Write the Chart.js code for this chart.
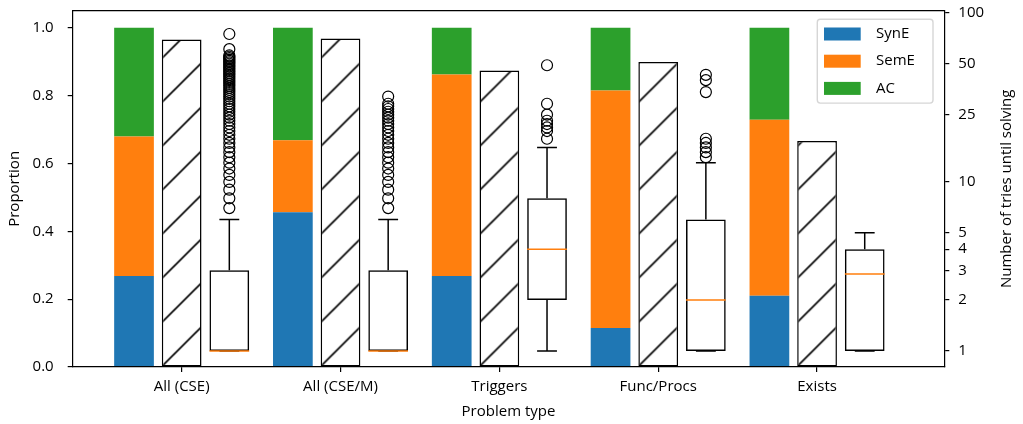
<!DOCTYPE html>
<html>
<head>
<meta charset="utf-8">
<script src="https://cdn.jsdelivr.net/npm/chart.js@4.4.1/dist/chart.umd.min.js"></script>
<style>
  html, body { margin: 0; padding: 0; background: #fff; }
  canvas { display: block; }
</style>
</head>
<body>
<canvas id="chart" width="1023" height="424"></canvas>
<script>
// Problem types on the x axis
const categories = ['All (CSE)', 'All (CSE/M)', 'Triggers', 'Func/Procs', 'Exists'];

// Share of submissions by outcome (stacked, left axis)
const synE = [0.268, 0.456, 0.268, 0.115, 0.210];
const semE = [0.411, 0.212, 0.594, 0.700, 0.519];
const ac   = [0.321, 0.332, 0.138, 0.185, 0.271];

// Share of problems eventually solved (hatched bar, left axis)
const solved = [0.965, 0.968, 0.874, 0.899, 0.666];

// Tries until solving (box plots, right log axis)
const whiskerLow  = [1, 1, 1, 1, 1];
const boxQ1       = [1, 1, 2, 1, 1];
const boxMedian   = [1, 1, 4, 2, 2.85];
const boxQ3       = [3, 3, 8, 6, 4];
const whiskerHigh = [6, 6, 16, 13, 5];
const outliersCSE = [7, 8, 9, 10, 11, 12, 13, 14, 15, 16, 17, 18, 19, 20, 21, 22, 23, 24, 25, 26,
                     27, 28, 29, 30, 31, 32, 33, 34, 35, 36, 37, 38, 39, 40, 41, 42, 43, 44, 45, 46,
                     47, 48, 49, 50, 51, 52, 53, 54, 55, 56, 61, 75];
const outliersCSEM = [7, 8, 9, 10, 11, 12, 13, 14, 15, 16, 17, 18, 19, 20, 21, 22, 23, 24, 25, 26,
                      27, 28, 29, 32];
const outliersTriggers = [18, 20, 21, 22, 23, 25, 29, 49];
const outliersFunc = [14, 15, 16, 17, 18, 34, 40, 43];
const outliersExists = [];
const outliers = [outliersCSE, outliersCSEM, outliersTriggers, outliersFunc, outliersExists];

// Tick labels
const proportionTicks = [0, 0.2, 0.4, 0.6, 0.8, 1.0];
const triesTicks = [1, 2, 3, 4, 5, 10, 25, 50, 100];

const FONT = "'Open Sans', sans-serif";
const COLORS = { synE: '#1f77b4', semE: '#ff7f0e', ac: '#2ca02c', median: '#ff7f0e' };

// Group layout in category units: three slots of 0.3, bars 0.25 wide
const SLOT = 0.3;
const BAR_W = 0.25;
const CAP_HALF = BAR_W / 4;
const HATCH_STEP = 44;

Chart.defaults.font.family = FONT;
Chart.defaults.font.size = 15;
Chart.defaults.color = '#000';

const xy = (arr) => arr.map((v, i) => ({ x: i, y: v }));

// Whisker and cap segments, separated by gaps
const whiskerPts = [];
const medianPts = [];
const outlierPts = [];
categories.forEach((_, i) => {
  const cx = i + SLOT;
  whiskerPts.push({ x: cx, y: whiskerLow[i] }, { x: cx, y: boxQ1[i] }, { x: cx, y: null });
  whiskerPts.push({ x: cx, y: boxQ3[i] }, { x: cx, y: whiskerHigh[i] }, { x: cx, y: null });
  whiskerPts.push({ x: cx - CAP_HALF, y: whiskerLow[i] }, { x: cx + CAP_HALF, y: whiskerLow[i] }, { x: cx, y: null });
  whiskerPts.push({ x: cx - CAP_HALF, y: whiskerHigh[i] }, { x: cx + CAP_HALF, y: whiskerHigh[i] }, { x: cx, y: null });
  medianPts.push({ x: cx - BAR_W / 2, y: boxMedian[i] }, { x: cx + BAR_W / 2, y: boxMedian[i] }, { x: cx, y: null });
  outliers[i].forEach(v => outlierPts.push({ x: cx, y: v }));
});

function hatchPattern(ctx, left, base) {
  const T = HATCH_STEP;
  const tile = document.createElement('canvas');
  tile.width = T; tile.height = T;
  const g = tile.getContext('2d');
  g.fillStyle = '#fff';
  g.fillRect(0, 0, T, T);
  g.strokeStyle = '#000';
  g.lineWidth = 1.6;
  for (const k of [-1, 0, 1]) {
    g.beginPath();
    g.moveTo(k * T, T);
    g.lineTo(k * T + T, 0);
    g.stroke();
  }
  const p = ctx.createPattern(tile, 'repeat');
  p.setTransform(new DOMMatrix().translate(left, base));
  return p;
}

// Anchor the hatch of each bar at its bottom-left corner
const hatchFill = {
  id: 'hatchFill',
  beforeDatasetDraw(chart, args) {
    const ds = chart.data.datasets[args.index];
    if (!ds.hatched) return;
    args.meta.data.forEach(el => {
      const pat = hatchPattern(chart.ctx, el.x - el.width / 2, el.base);
      el.options = Object.assign({}, el.options, { backgroundColor: pat });
    });
  }
};

// Right-hand axis title, reading bottom to top
const rightTitle = {
  id: 'rightTitle',
  afterDraw(chart, args, o) {
    const s = chart.scales.y2;
    const ctx = chart.ctx;
    ctx.save();
    ctx.font = `${o.size}px ${FONT}`;
    ctx.fillStyle = '#000';
    ctx.textAlign = 'center';
    ctx.textBaseline = 'middle';
    ctx.translate(s.right - o.offset, (s.top + s.bottom) / 2);
    ctx.rotate(-Math.PI / 2);
    ctx.fillText(o.text, 0, 0);
    ctx.restore();
  }
};

// Framed legend in the upper right of the plot
const framedLegend = {
  id: 'framedLegend',
  afterDraw(chart, args, o) {
    const ctx = chart.ctx;
    const area = chart.chartArea;
    const items = chart.data.datasets.filter(d => d.inLegend);
    const right = area.right - o.marginRight;
    const left = right - o.width;
    const top = area.top + o.marginTop;
    const h = o.padTop * 2 + (items.length - 1) * o.rowHeight;
    ctx.save();
    ctx.beginPath();
    if (ctx.roundRect) ctx.roundRect(left, top, o.width, h, o.radius);
    else ctx.rect(left, top, o.width, h);
    ctx.fillStyle = 'rgba(255,255,255,0.8)';
    ctx.fill();
    ctx.lineWidth = 1.4;
    ctx.strokeStyle = '#d6d6d6';
    ctx.stroke();
    ctx.font = `${o.size}px ${FONT}`;
    ctx.textBaseline = 'middle';
    ctx.textAlign = 'left';
    items.forEach((d, k) => {
      const cy = top + o.padTop + k * o.rowHeight;
      ctx.fillStyle = d.backgroundColor;
      ctx.fillRect(left + o.swatchX, cy - o.swatchH / 2, o.swatchW, o.swatchH);
      ctx.fillStyle = '#000';
      ctx.fillText(d.label, left + o.textX, cy);
    });
    ctx.restore();
  }
};

// Fixed axis box sizes; edge label padding is not needed here
const fixWidth = w => s => { s.width = w; s.paddingTop = 0; s.paddingBottom = 0; };
const fixHeight = h => s => { s.height = h; s.paddingLeft = 0; s.paddingRight = 0; };

const axisLine = { display: true, color: '#000', width: 1.2, z: 1 };
const tickMarks = { display: true, drawOnChartArea: false, drawTicks: true, tickLength: 5, color: '#000', lineWidth: 1.2, offset: false };

new Chart(document.getElementById('chart'), {
  type: 'bar',
  data: {
    datasets: [
      { label: 'SynE', inLegend: true, data: xy(synE), stack: 'outcome', yAxisID: 'y', xAxisID: 'x',
        backgroundColor: COLORS.synE, borderWidth: 0, order: 3 },
      { label: 'SemE', inLegend: true, data: xy(semE), stack: 'outcome', yAxisID: 'y', xAxisID: 'x',
        backgroundColor: COLORS.semE, borderWidth: 0, order: 3 },
      { label: 'AC', inLegend: true, data: xy(ac), stack: 'outcome', yAxisID: 'y', xAxisID: 'x',
        backgroundColor: COLORS.ac, borderWidth: 0, order: 3 },
      { label: 'Solved', hatched: true, data: xy(solved), stack: 'solved', yAxisID: 'y', xAxisID: 'x',
        backgroundColor: '#fff', borderColor: '#000', borderWidth: 1.5, borderSkipped: false, order: 3 },
      { label: 'Tries', data: categories.map((_, i) => ({ x: i, y: [boxQ1[i], boxQ3[i]] })), stack: 'tries',
        yAxisID: 'y2', xAxisID: 'x', backgroundColor: 'rgba(255,255,255,0)', borderColor: '#000',
        borderWidth: 1.5, borderSkipped: false, order: 3 },
      { type: 'line', label: 'Whiskers', data: whiskerPts, yAxisID: 'y2', xAxisID: 'x',
        borderColor: '#000', borderWidth: 1.5, pointRadius: 0, spanGaps: false, fill: false, order: 1 },
      { type: 'line', label: 'Median', data: medianPts, yAxisID: 'y2', xAxisID: 'x',
        borderColor: COLORS.median, borderWidth: 1.5, pointRadius: 0, spanGaps: false, fill: false, order: 0 },
      { type: 'scatter', label: 'Outliers', data: outlierPts, yAxisID: 'y2', xAxisID: 'x',
        pointStyle: 'circle', pointRadius: 5.5, pointBorderWidth: 1.2, borderColor: '#000',
        backgroundColor: 'rgba(0,0,0,0)', order: 0 }
    ]
  },
  options: {
    responsive: false,
    animation: false,
    devicePixelRatio: 1,
    categoryPercentage: SLOT * 3,
    barPercentage: BAR_W / SLOT,
    layout: { padding: 0 },
    plugins: {
      legend: { display: false },
      tooltip: { enabled: false },
      rightTitle: { text: 'Number of tries until solving', size: 15, offset: 16.5 },
      framedLegend: { width: 115.7, marginRight: 11.3, marginTop: 8.6, padTop: 14.7, rowHeight: 27.2,
                      radius: 3, swatchX: 6.7, swatchW: 36.7, swatchH: 13, textX: 58.7, size: 15 }
    },
    scales: {
      x: {
        type: 'linear', position: 'bottom', min: -0.686, max: 4.801, offset: false,
        afterBuildTicks: s => { s.ticks = categories.map((_, i) => ({ value: i })); },
        ticks: { callback: v => categories[v] ?? '', padding: 6, maxRotation: 0, autoSkip: false },
        grid: tickMarks,
        border: axisLine,
        title: { display: true, text: 'Problem type', padding: { top: 0, bottom: 3 } },
        afterFit: fixHeight(57)
      },
      xTop: {
        type: 'linear', position: 'top', display: true,
        ticks: { display: false },
        grid: { display: false },
        border: axisLine,
        afterFit: fixHeight(10.7)
      },
      y: {
        type: 'linear', position: 'left', min: 0, max: 1.05, stacked: true,
        afterBuildTicks: s => { s.ticks = proportionTicks.map(v => ({ value: v })); },
        ticks: { callback: v => v.toFixed(1), padding: 14, autoSkip: false },
        grid: tickMarks,
        border: axisLine,
        title: { display: true, text: 'Proportion', padding: { top: 5.5, bottom: 0 } },
        afterFit: fixWidth(72.7)
      },
      y2: {
        type: 'logarithmic', position: 'right', min: 0.804, max: 103, stacked: false,
        afterBuildTicks: s => { s.ticks = triesTicks.map(v => ({ value: v })); },
        ticks: { callback: v => String(v), padding: 9, autoSkip: false },
        grid: tickMarks,
        border: axisLine,
        afterFit: fixWidth(78.7)
      }
    }
  },
  plugins: [hatchFill, rightTitle, framedLegend]
});
</script>
</body>
</html>
